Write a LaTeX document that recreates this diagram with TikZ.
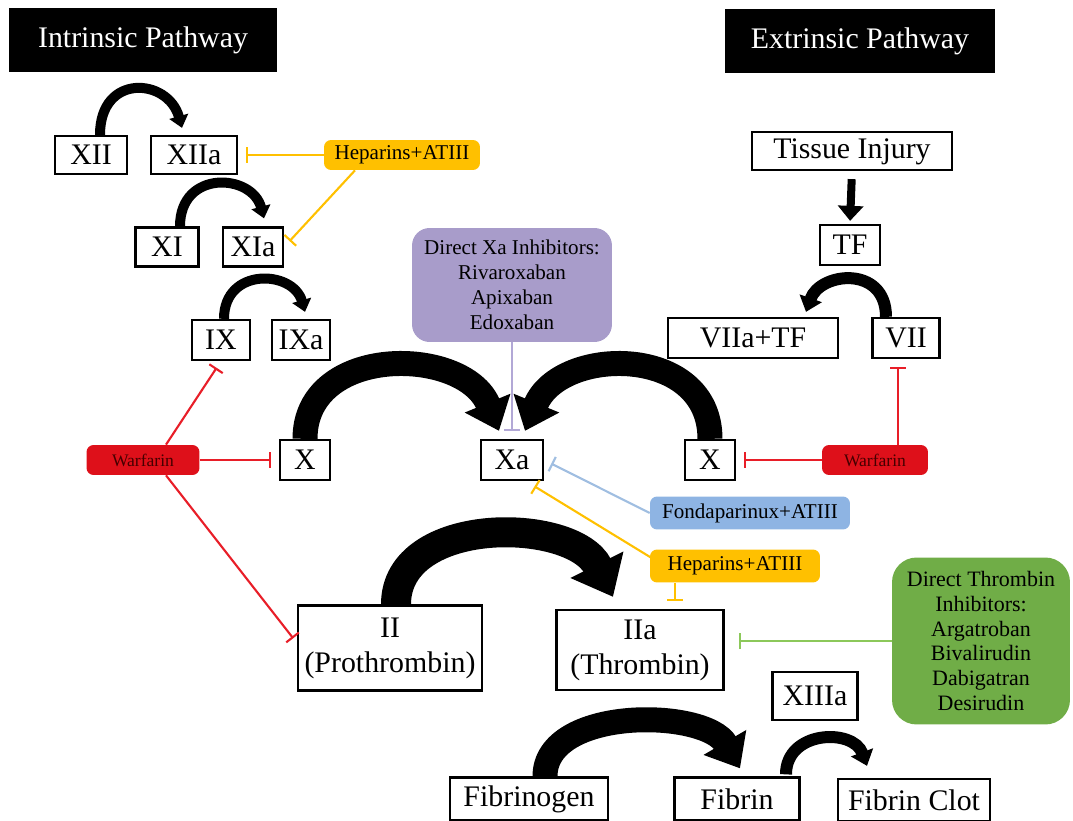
\documentclass[tikz,border=0pt]{standalone}
\usepackage{fontspec}
\setmainfont{Liberation Serif}
\usetikzlibrary{arrows.meta}
\definecolor{hepyellow}{RGB}{255,192,0}
\definecolor{warfred}{RGB}{222,16,26}
\definecolor{warftext}{RGB}{70,0,0}
\definecolor{warfline}{RGB}{232,30,40}
\definecolor{xapurple}{RGB}{168,156,202}
\definecolor{xaline}{RGB}{178,168,214}
\definecolor{fondablue}{RGB}{142,180,227}
\definecolor{fondaline}{RGB}{160,190,225}
\definecolor{dtigreen}{RGB}{112,173,71}
\definecolor{dtiline}{RGB}{140,200,90}
\begin{document}
\begin{tikzpicture}[x=0.02cm,y=-0.02cm,
    factor/.style={draw,line width=1.3pt,inner sep=0pt,minimum height=0.76cm,font=\fontsize{17}{20}\selectfont,align=center},
    pathway/.style={fill=black,text=white,inner sep=0pt,font=\fontsize{17}{20}\selectfont},
    drug/.style={rounded corners=4pt,inner sep=0pt,font=\fontsize{12}{14.2}\selectfont,align=center},
    warf/.style={drug,fill=warfred,text=warftext,font=\fontsize{10}{12}\selectfont,minimum height=0.6cm},
    conv/.style={line width=#1,-{Triangle[width=0pt 1.9,length=0pt 1.2]}},
    inhib/.style={line width=1.2pt,-{Bar[width=0.32cm]},shorten >=0.16cm}]
    \useasboundingbox (0,0) rectangle (1073,821);
    \node[pathway,minimum width=5.36cm,minimum height=1.3cm] (intr) at (143,40) {Intrinsic Pathway};
    \node[pathway,minimum width=5.4cm,minimum height=1.28cm] (extr) at (860,41) {Extrinsic Pathway};
    \node[factor,minimum width=1.44cm] (XII) at (91,155) {XII};
    \node[factor,minimum width=1.72cm] (XIIa) at (194,155) {XIIa};
    \node[drug,fill=hepyellow,minimum width=3.12cm,minimum height=0.6cm] (hepA) at (402,155) {Heparins+ATIII};
    \node[factor,minimum width=1.26cm,minimum height=0.78cm] (XI) at (167,247) {XI};
    \node[factor,minimum width=1.2cm,minimum height=0.78cm] (XIa) at (253,247) {XIa};
    \node[factor,minimum width=1.16cm,minimum height=0.8cm] (IX) at (221,340) {IX};
    \node[factor,minimum width=1.16cm,minimum height=0.8cm] (IXa) at (301,340) {IXa};
    \node[drug,fill=xapurple,rounded corners=10pt,minimum width=4cm,minimum height=2.28cm] (xaInh) at (512,285) {Direct Xa Inhibitors:\\Rivaroxaban\\Apixaban\\Edoxaban};
    \node[warf,minimum width=2.26cm] (warfL) at (143,460) {Warfarin};
    \node[factor,minimum width=1cm,minimum height=0.8cm] (XL) at (305,460) {X};
    \node[factor,minimum width=1.24cm,minimum height=0.8cm] (Xa) at (512,460) {Xa};
    \node[factor,minimum width=1cm,minimum height=0.8cm] (XR) at (710,460) {X};
    \node[warf,minimum width=2.12cm] (warfR) at (875,460) {Warfarin};
    \node[factor,minimum width=4cm,text depth=0.1cm] (injury) at (852,151) {Tissue Injury};
    \node[factor,minimum width=1.2cm,minimum height=0.8cm] (TF) at (850,245) {TF};
    \node[factor,minimum width=3.4cm,minimum height=0.8cm] (VIIaTF) at (753,338) {VIIa+TF};
    \node[factor,minimum width=1.34cm,minimum height=0.8cm] (VII) at (906,338) {VII};
    \node[drug,fill=fondablue,minimum width=4cm,minimum height=0.66cm] (fonda) at (750,513) {Fondaparinux+ATIII};
    \node[drug,fill=hepyellow,minimum width=3.4cm,minimum height=0.66cm] (hepB) at (735,566) {Heparins+ATIII};
    \node[factor,minimum width=3.68cm,minimum height=1.7cm] (II) at (390,648) {II\\(Prothrombin)};
    \node[factor,minimum width=3.34cm,minimum height=1.6cm] (IIa) at (640,650) {IIa\\(Thrombin)};
    \node[drug,fill=dtigreen,rounded corners=14pt,minimum width=3.56cm,minimum height=3.34cm,font=\fontsize{12.5}{14.2}\selectfont] (dti) at (981,641) {Direct Thrombin\\Inhibitors:\\Argatroban\\Bivalirudin\\Dabigatran\\Desirudin};
    \node[factor,minimum width=1.7cm,minimum height=0.96cm] (XIIIa) at (815,696) {XIIIa};
    \node[factor,minimum width=3.16cm,minimum height=0.86cm] (fibrinogen) at (529,799) {Fibrinogen};
    \node[factor,minimum width=2.5cm,minimum height=0.86cm] (fibrin) at (737,799) {Fibrin};
    \node[factor,minimum width=3.04cm,minimum height=0.84cm] (clot) at (914,800) {Fibrin Clot};
    \draw[conv=0.2cm] ([shift={(9,0)}]XII.north) .. controls +(0,-62) and +(-14,-50) .. ([shift={(-12,-7)}]XIIa.north);
    \draw[conv=0.2cm] ([shift={(13,0)}]XI.north) .. controls +(0,-57) and +(-12,-45) .. ([shift={(11,-8)}]XIa.north);
    \draw[conv=0.2cm] ([shift={(3,0)}]IX.north) .. controls +(0,-52) and +(-12,-42) .. ([shift={(4,-7)}]IXa.north);
    \draw[conv=0.5cm] (XL.north) .. controls +(0,-95) and +(-35,-85) .. ([shift={(-13,-8)}]Xa.north);
    \draw[conv=0.5cm] (XR.north) .. controls +(0,-95) and +(35,-85) .. ([shift={(13,-8)}]Xa.north);
    \draw[line width=0.16cm,-{Triangle[width=0.5cm,length=0.3cm]},shorten <=0.16cm,shorten >=0.06cm] (injury.south) -- (TF.north);
    \draw[conv=0.24cm] ([shift={(-20,0)}]VII.north) .. controls +(0,-52) and +(14,-40) .. ([shift={(53,-5)}]VIIaTF.north);
    \draw[conv=0.6cm] ([shift={(6,0)}]II.north) .. controls +(0,-90) and +(-40,-80) .. ([shift={(-27,-12)}]IIa.north);
    \draw[conv=0.5cm] ([shift={(16,0)}]fibrinogen.north) .. controls +(0,-70) and +(-35,-60) .. ([shift={(3,-8)}]fibrin.north);
    \draw[conv=0.24cm] ([shift={(49,-2)}]fibrin.north) .. controls +(0,-44) and +(-14,-38) .. ([shift={(-47,-12)}]clot.north);
    \draw[inhib,hepyellow] (hepA.west) -- (XIIa.east);
    \draw[inhib,hepyellow] ([shift={(-47,0)}]hepA.south) -- (XIa.east);
    \draw[inhib,warfline] ([shift={(23,0)}]warfL.north) -- (IX.south);
    \draw[inhib,warfline] (warfL.east) -- (XL.west);
    \draw[inhib,warfline,shorten >=0.12cm] ([shift={(23,0)}]warfL.south) -- ([shift={(0,-5)}]II.west);
    \draw[inhib,warfline] (warfR.west) -- (XR.east);
    \draw[inhib,warfline] ([shift={(23,0)}]warfR.north) -- ([shift={(-8,0)}]VII.south);
    \draw[inhib,xaline] (xaInh.south) -- (Xa.north);
    \draw[inhib,fondaline] (fonda.west) -- (Xa.east);
    \draw[inhib,hepyellow,shorten >=0.2cm] ([shift={(2,-8)}]hepB.west) -- ([shift={(14,0)}]Xa.south);
    \draw[inhib,hepyellow] ([shift={(-60,0)}]hepB.south) -- ([shift={(35,0)}]IIa.north);
    \draw[inhib,dtiline,shorten >=0.28cm] (dti.west) -- ([shift={(0,-9)}]IIa.east);
\end{tikzpicture}
\end{document}
